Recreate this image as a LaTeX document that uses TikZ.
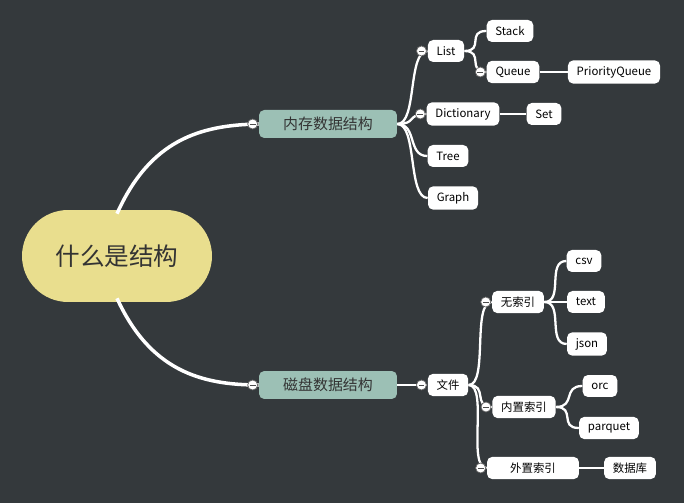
\documentclass[tikz,border=0pt]{standalone}
\usepackage{fontspec}
\setmainfont{Liberation Sans}
\newfontfamily\cjk{Noto Sans CJK SC}
\usetikzlibrary{positioning, calc}
\definecolor{BackColor}{RGB}{52,57,60}
\definecolor{RootColor}{RGB}{233,222,142}
\definecolor{MainColor}{RGB}{156,192,181}
\tikzstyle{root} = [rectangle, rounded corners=0.92cm, fill=RootColor, minimum width=3.8cm, minimum height=1.84cm, font=\cjk\fontsize{14}{16}\selectfont, text=black!80]
\tikzstyle{main} = [rectangle, rounded corners=3pt, fill=MainColor, minimum width=2.76cm, minimum height=0.56cm, font=\cjk\fontsize{8.5}{10}\selectfont, text=black!80]
\tikzstyle{leaf} = [rectangle, rounded corners=3pt, fill=white, minimum height=0.44cm, inner xsep=5pt, font=\cjk\fontsize{6.5}{8}\selectfont]
\tikzstyle{fold} = [circle, draw=black!60, fill=white, minimum size=0.2cm, inner sep=0pt, path picture={\draw[black!70] ($(path picture bounding box.west)+(1.2pt,0)$) -- ($(path picture bounding box.east)-(1.2pt,0)$);}]
\tikzstyle{link} = [white, line width=1.3pt]
\tikzstyle{blink} = [white, line width=2pt]

\begin{document}
\begin{tikzpicture}[x=0.02cm, y=-0.02cm]
            \fill[BackColor] (0,0) rectangle (684,503);
            % Root
            \node[root] (root) at (117,256) {什么是结构};

            % Memory branch
            \node[main] (mem) at (328,124) {内存数据结构};
            \node[leaf] (list) at (446,51) {List};
            \node[leaf] (stack) at (510,31) {Stack};
            \node[leaf] (queue) at (513,72) {Queue};
            \node[leaf] (pq) at (614,72) {PriorityQueue};
            \node[leaf] (dict) at (463,114) {Dictionary};
            \node[leaf] (set) at (544,114) {Set};
            \node[leaf] (tree) at (448,156) {Tree};
            \node[leaf] (graph) at (453,198) {Graph};

            % Disk branch
            \node[main] (disk) at (328,385) {磁盘数据结构};
            \node[leaf] (file) at (448,385) {文件};
            \node[leaf] (noidx) at (518,302) {无索引};
            \node[leaf] (csv) at (584,261) {csv};
            \node[leaf] (text) at (586,302) {text};
            \node[leaf] (json) at (587,344) {json};
            \node[leaf] (inidx) at (524,407) {内置索引};
            \node[leaf] (orc) at (600,386) {orc};
            \node[leaf] (parquet) at (609,428) {parquet};
            \node[leaf, minimum width=1.84cm] (exidx) at (533,468) {外置索引};
            \node[leaf] (db) at (630,468) {数据库};

            % Connectors
            \draw[blink] (root.north) ++(0,4) .. controls (150,140) and (200,125) .. (mem.west);
            \draw[blink] (root.south) ++(0,-4) .. controls (150,370) and (200,385) .. (disk.west);
            \foreach \a/\b in {mem/list, mem/dict, mem/tree, mem/graph, list/stack, list/queue, queue/pq, dict/set,
                               file/noidx, file/inidx, file/exidx, noidx/csv, noidx/text, noidx/json, inidx/orc, inidx/parquet, exidx/db}
                \draw[link] (\a.east) .. controls ($(\a.east)+(20,0)$) and ($(\b.west)+(-20,0)$) .. (\b.west);
            \draw[link] (disk.east) -- (file.west);

            % Fold marks
            \foreach \n in {mem, disk, list, queue, dict, file, noidx, inidx, exidx}
                \node[fold] at ($(\n.west)+(-6,0)$) {};
        \end{tikzpicture}
\end{document}
